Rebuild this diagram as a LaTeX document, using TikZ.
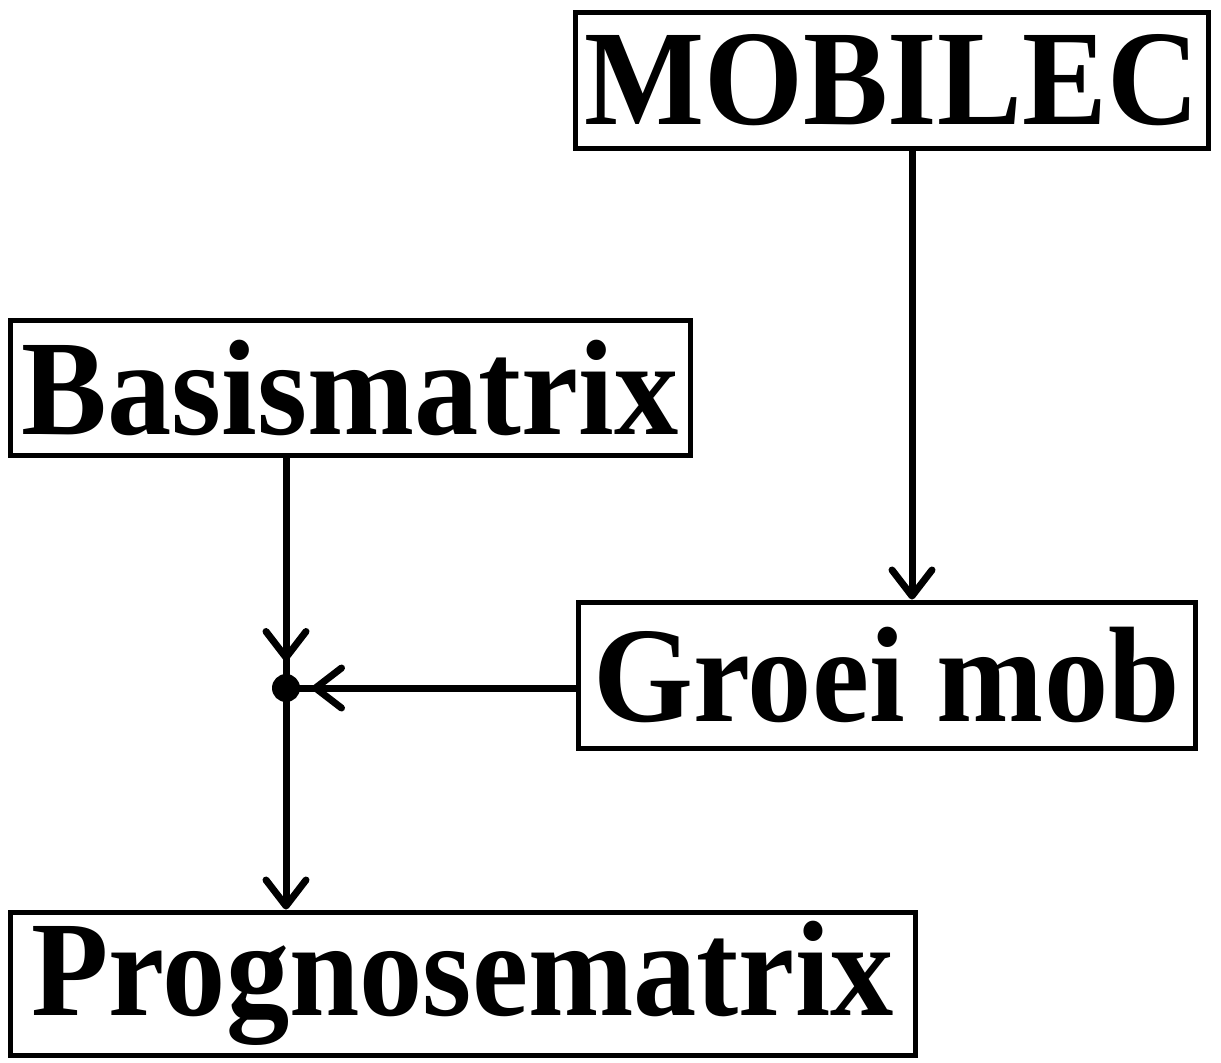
\documentclass[tikz,border=0pt]{standalone}
\usepackage{fontspec}
\setmainfont{Liberation Serif}
\usetikzlibrary{arrows.meta}

\begin{document}
\begin{tikzpicture}[x=0.5pt,y=-0.5pt,
  blok/.style={draw=black,line width=2.5pt,inner sep=0pt,
    font=\fontsize{68}{68}\selectfont\bfseries},
  lijn/.style={line width=3.5pt},
  pijl/.style={lijn,-{Straight Barb[length=13pt,width=20pt,line width=3.5pt,round]}}]
\useasboundingbox (0,0) rectangle (1221,1062);

\node[blok,minimum width=316.5pt,minimum height=68pt] (mobilec) at (891.5,80) {\raisebox{-2.5pt}{\scalebox{0.935}[1]{MOBILEC}}};
\node[blok,minimum width=340pt,minimum height=67.5pt] (basis) at (350,387.5) {\scalebox{0.945}[1]{Basismatrix}};
\node[blok,minimum width=308.5pt,minimum height=73pt] (groei) at (886.5,675) {\scalebox{0.945}[1]{Groei mob}};
\node[blok,minimum width=452.5pt,minimum height=71.5pt] (prog) at (462.5,983.5) {\scalebox{0.93}[1]{Prognosematrix}};

% knooppunt
\coordinate (j) at (286,688);
\fill (j) circle (7pt);

\draw[lijn] (basis.south -| j) -- (j);
\draw[pijl] (basis.south -| j) -- ([yshift=13.5pt]j);
\draw[lijn] (groei.west |- j) -- (j);
\draw[pijl] (groei.west |- j) -- ([xshift=13pt]j);
\draw[pijl] (j) -- (prog.north -| j);

\draw[pijl] (912,148) -- (groei.north -| 912,0);

\end{tikzpicture}
\end{document}
